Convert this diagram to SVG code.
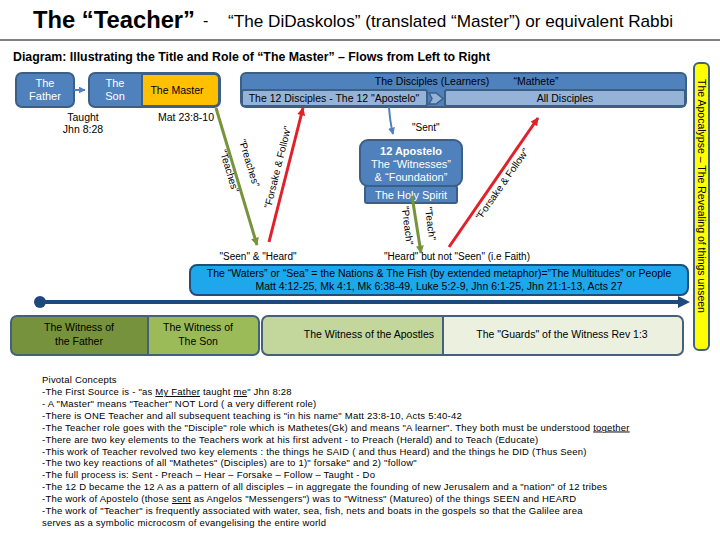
<svg xmlns="http://www.w3.org/2000/svg" width="720" height="540" viewBox="0 0 720 540">
<style>
text{font-family:"Liberation Sans",Arial,sans-serif;fill:#000}
.bx{fill:#4f81bd;stroke:#3c5f86;stroke-width:2}
.lb{fill:#95b3d7;stroke:#3c5f86;stroke-width:2}
.wt{fill:#fff;font-size:11px}
.bk{font-size:10.5px}
.lab{font-size:10px}
.wb{stroke:#44607f;stroke-width:2}
.pv{font-size:9.5px;letter-spacing:0.22px}
.u{text-decoration:underline}
</style>
<defs>
<marker id="ag" viewBox="0 0 10 10" refX="9" refY="5" markerWidth="9" markerHeight="8" markerUnits="userSpaceOnUse" orient="auto"><path d="M0,0L10,5L0,10z" fill="#77933c"/></marker>
<marker id="ar" viewBox="0 0 10 10" refX="9" refY="5" markerWidth="9" markerHeight="8" markerUnits="userSpaceOnUse" orient="auto"><path d="M0,0L10,5L0,10z" fill="#e0202a"/></marker>
<marker id="ab" viewBox="0 0 10 10" refX="9" refY="5" markerWidth="7" markerHeight="7" markerUnits="userSpaceOnUse" orient="auto"><path d="M0,0L10,5L0,10z" fill="#4f81bd"/></marker>
</defs>
<rect width="720" height="540" fill="#fff"/>
<g id="title">
<text x="33" y="28" font-size="24" font-weight="bold" textLength="162" lengthAdjust="spacingAndGlyphs">The “Teacher”</text>
<text x="203" y="26" font-size="16">-</text>
<text x="228" y="27" font-size="17" textLength="445" lengthAdjust="spacingAndGlyphs">“The DiDaskolos” (translated “Master”) or equivalent Rabbi</text>
<line x1="0" y1="40" x2="720" y2="40" stroke="#000" stroke-width="1"/>
<text x="13" y="61" font-size="12" font-weight="bold" textLength="477" lengthAdjust="spacingAndGlyphs">Diagram: Illustrating the Title and Role of  “The Master” – Flows from Left to Right</text>
</g>
<g id="father">
<rect class="bx" x="16" y="73" width="58" height="34" rx="6"/>
<text class="wt" x="45" y="87" text-anchor="middle">The</text>
<text class="wt" x="45" y="100" text-anchor="middle">Father</text>
<text class="bk" x="83" y="121" text-anchor="middle">Taught</text>
<text class="bk" x="83" y="133" text-anchor="middle">Jhn 8:28</text>
</g>
<g id="son">
<rect class="bx" x="89" y="73" width="131" height="34" rx="6"/>
<path d="M142,74H214a5,5 0 0 1 5,5V101a5,5 0 0 1 -5,5H142z" fill="#ffc000" stroke="#3c5f86" stroke-width="2"/>
<text class="wt" x="115" y="87" text-anchor="middle">The</text>
<text class="wt" x="115" y="100" text-anchor="middle">Son</text>
<text x="177" y="94" font-size="10.5" text-anchor="middle">The Master</text>
<text class="bk" x="186" y="121" text-anchor="middle">Mat 23:8-10</text>
</g>
<g id="disciples">
<rect class="bx" x="241" y="73" width="445" height="34" rx="5"/>
<text x="432" y="85" font-size="10.5" text-anchor="middle">The Disciples (Learners)</text>
<text x="536" y="85" font-size="10.5" text-anchor="middle">“Mathete”</text>
<rect class="lb" x="242" y="90" width="185" height="16" rx="2"/>
<text x="334" y="102" font-size="10.5" text-anchor="middle">The 12 Disciples  - The 12 "Apostelo"</text>
<path d="M429,93H436L443,98.5L436,104H429L432,98.5z" fill="#95b3d7" stroke="#3c5f86" stroke-width="1.5"/>
<rect class="lb" x="445" y="90" width="240" height="16" rx="2"/>
<text x="565" y="102" font-size="10.5" text-anchor="middle">All Disciples</text>
</g>
<g id="apostelo">
<rect class="bx" x="360" y="140" width="102" height="46" rx="8"/>
<text class="wt" x="411" y="155" text-anchor="middle" font-weight="bold">12 Apostelo</text>
<text class="wt" x="411" y="168" text-anchor="middle">The “Witnesses”</text>
<text class="wt" x="411" y="181" text-anchor="middle">&amp; “Foundation”</text>
</g>
<g id="holyspirit">
<rect class="bx" x="365" y="186" width="92" height="17" rx="2"/>
<text class="wt" x="411" y="199" text-anchor="middle">The Holy Spirit</text>
</g>
<g id="connectors" fill="none">
<line x1="74" y1="90" x2="85" y2="90" stroke="#4f81bd" stroke-width="2" marker-end="url(#ab)"/>
<path d="M389,107Q390,122 393,134" stroke="#4f81bd" stroke-width="2" marker-end="url(#ab)"/>
<line x1="216" y1="108" x2="257" y2="245" stroke="#77933c" stroke-width="3" marker-end="url(#ag)"/>
<line x1="269" y1="242" x2="303" y2="108" stroke="#e0202a" stroke-width="3" marker-end="url(#ar)"/>
<line x1="412" y1="196" x2="421" y2="253" stroke="#77933c" stroke-width="3" marker-end="url(#ag)"/>
<line x1="449" y1="247" x2="538" y2="118" stroke="#e0202a" stroke-width="3" marker-end="url(#ar)"/>
</g>
<g id="labels">
<text class="lab" x="0" y="0" text-anchor="middle" transform="translate(226,172) rotate(73)">"Teaches"</text>
<text class="lab" x="0" y="0" text-anchor="middle" transform="translate(246,164) rotate(73)">"Preaches"</text>
<text class="lab" x="0" y="0" text-anchor="middle" transform="translate(281,168) rotate(-76)">"Forsake &amp; Follow"</text>
<text class="lab" x="0" y="0" text-anchor="middle" transform="translate(505,186) rotate(-55)">"Forsake &amp; Follow"</text>
<text class="lab" x="0" y="0" text-anchor="middle" transform="translate(404,226) rotate(83)">"Preach"</text>
<text class="lab" x="0" y="0" text-anchor="middle" transform="translate(427,224) rotate(83)">"Teach"</text>
<text class="lab" x="412" y="131">"Sent"</text>
<text class="lab" x="258" y="260" text-anchor="middle">"Seen" &amp; "Heard"</text>
<text class="lab" x="457" y="260" text-anchor="middle">"Heard" but not "Seen" (i.e Faith)</text>
</g>
<g id="waters">
<rect x="190" y="265" width="498" height="30" rx="7" fill="#1ea7ea" stroke="#1f4e79" stroke-width="2"/>
<text x="439" y="277" font-size="10.5" text-anchor="middle">The “Waters” or “Sea” = the Nations &amp; The Fish (by extended metaphor)=”The Multitudes” or People</text>
<text x="439" y="290" font-size="10.5" text-anchor="middle">Matt 4:12-25, Mk 4:1, Mk 6:38-49, Luke 5:2-9, Jhn 6:1-25, Jhn 21:1-13, Acts 27</text>
</g>
<g id="flow">
<circle cx="40" cy="302" r="6" fill="#1f497d"/>
<line x1="40" y1="302" x2="680" y2="302" stroke="#1f497d" stroke-width="4"/>
<path d="M678,296L690,302L678,308z" fill="#1f497d"/>
</g>
<g id="witness-father">
<path class="wb" d="M148,316H17a6,6 0 0 0 -6,6V349a6,6 0 0 0 6,6H148z" fill="#76923c"/>
<text class="bk" x="79" y="331" text-anchor="middle">The Witness of</text>
<text class="bk" x="79" y="345" text-anchor="middle">the Father</text>
</g>
<g id="witness-son">
<path class="wb" d="M148,316H253a6,6 0 0 1 6,6V349a6,6 0 0 1 -6,6H148z" fill="#9bbb59"/>
<text class="bk" x="198" y="331" text-anchor="middle">The Witness of</text>
<text class="bk" x="198" y="345" text-anchor="middle">The Son</text>
</g>
<g id="witness-apostles">
<path class="wb" d="M443,316H268a6,6 0 0 0 -6,6V349a6,6 0 0 0 6,6H443z" fill="#c3d69b"/>
<text class="bk" x="434" y="338" text-anchor="end">The Witness of the Apostles</text>
</g>
<g id="guards">
<path class="wb" d="M443,316H677a6,6 0 0 1 6,6V349a6,6 0 0 1 -6,6H443z" fill="#ebf1de"/>
<text class="bk" x="562" y="338" text-anchor="middle">The "Guards" of the Witness Rev 1:3</text>
</g>
<g id="apocalypse">
<rect x="694" y="63" width="15" height="287" rx="5" fill="#ffff00" stroke="#44607f" stroke-width="2"/>
<text x="0" y="0" font-size="10.5" text-anchor="middle" transform="translate(698,196) rotate(90)">The Apocalypse – The Revealing of things unseen</text>
</g>
<g id="concepts">
<text class="pv" x="42" y="383">Pivotal Concepts</text>
<text class="pv" x="42" y="395">-The First Source is  - "as <tspan class="u">My Father</tspan> taught <tspan class="u">me</tspan>" Jhn 8:28</text>
<text class="pv" x="42" y="407">- A "Master" means "Teacher" NOT Lord ( a very different role)</text>
<text class="pv" x="42" y="418.5">-There is ONE Teacher and all subsequent teaching is "in his name" Matt 23:8-10, Acts 5:40-42</text>
<text class="pv" x="42" y="430.5">-The Teacher role goes with the "Disciple" role which is Mathetes(Gk) and means "A learner". They both must be understood <tspan class="u">together</tspan></text>
<text class="pv" x="42" y="442.5">-There are two key elements to the Teachers work at his first advent - to Preach (Herald) and to Teach (Educate)</text>
<text class="pv" x="42" y="454.5">-This work of Teacher revolved two key elements : the things he SAID ( and thus Heard) and the things he DID (Thus Seen)</text>
<text class="pv" x="42" y="466">-The two key reactions of all "Mathetes" (Disciples) are to  1)" forsake" and 2) "follow"</text>
<text class="pv" x="42" y="478">-The full process is:  Sent - Preach – Hear – Forsake – Follow – Taught - Do</text>
<text class="pv" x="42" y="490">-The 12 D became the 12 A as a pattern of all disciples – in aggregate the founding of new Jerusalem and a "nation" of 12 tribes</text>
<text class="pv" x="42" y="502">-The work of Apostelo (those <tspan class="u">sent</tspan> as Angelos "Messengers") was to "Witness" (Matureo) of the things SEEN and HEARD</text>
<text class="pv" x="42" y="513.5">-The work of "Teacher" is frequently associated with water, sea, fish, nets and boats in the gospels so that the Galilee area</text>
<text class="pv" x="42" y="525.5">serves as a symbolic microcosm of evangelising the entire world</text>
</g>
</svg>
